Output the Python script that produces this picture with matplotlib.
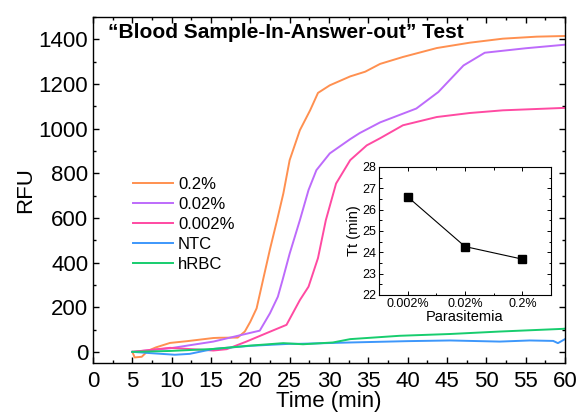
import matplotlib
import matplotlib.pyplot as plt
from matplotlib.ticker import MultipleLocator

matplotlib.use('agg')
plt.rcParams['font.family'] = ['Liberation Sans', 'DejaVu Sans']

# fluorescence traces (time in min, RFU)
t_02 = [5, 5.3, 6.2, 7, 8, 9.8, 12, 15.3, 16, 18.4, 19.3, 20, 20.8, 21.6, 22.5, 23.4, 24.2, 25, 26.3,
        27.6, 28.6, 30.1, 32.7, 34.6, 36.5, 39.4, 43.7, 47.9, 52.1, 56.4, 60]
rfu_02 = [0, -25, -22, 5, 20, 40, 48, 62, 63, 64, 91, 135, 195, 320, 460, 590, 710, 859, 993,
          1082, 1160, 1194, 1234, 1255, 1290, 1321, 1361, 1385, 1403, 1412, 1415]

t_002 = [5, 9.8, 15.3, 18.9, 21.2, 22.5, 23.5, 24.1, 25, 26.3, 27.4, 28.4, 30.1, 32.7, 33.9, 36.5,
         41.1, 43.9, 47.1, 49.8, 55, 60]
rfu_002 = [0, 16, 46, 76, 95, 173, 247, 322, 440, 590, 725, 814, 889, 953, 980, 1028,
           1090, 1164, 1283, 1340, 1360, 1376]

t_0002 = [5, 9.8, 15.3, 17, 19.5, 22, 24.6, 26.3, 27.4, 28.6, 29.6, 30.9, 32.7, 34.8, 36.5, 39.4, 43.7,
          47.9, 52.1, 60]
rfu_0002 = [0, 18, 6, 12, 46, 83, 121, 232, 292, 420, 590, 754, 859, 925, 957, 1015, 1052,
            1070, 1082, 1093]

t_ntc = [5, 7, 10.4, 12.3, 15.3, 20, 25, 26.3, 32.7, 40, 45.4, 51.7, 55.5, 58.5, 59.1, 60]
rfu_ntc = [0, -5, -13, -9, 13, 27, 36, 36, 42, 48, 51, 46, 51, 49, 39, 57]

t_rbc = [5, 9.8, 15.3, 20, 24.2, 26.7, 30.5, 32.7, 39, 45.4, 51.7, 59.7, 60]
rfu_rbc = [0, 4, 13, 28, 39, 34, 42, 57, 72, 80, 91, 103, 104]

# threshold time vs parasitemia
parasitemia = ['0.002%', '0.02%', '0.2%']
tt = [26.6, 24.27, 23.68]

fig = plt.figure(figsize=(5.79, 4.12), dpi=100)
ax = fig.add_axes([0.1606, 0.1189, 0.8152, 0.8398])

ax.plot(t_02, rfu_02, color='#ff9050', lw=1.4, label='0.2%')
ax.plot(t_002, rfu_002, color='#bd6bfb', lw=1.4, label='0.02%')
ax.plot(t_0002, rfu_0002, color='#ff4aa2', lw=1.4, label='0.002%')
ax.plot(t_ntc, rfu_ntc, color='#3d97fb', lw=1.4, label='NTC')
ax.plot(t_rbc, rfu_rbc, color='#17cd6e', lw=1.4, label='hRBC')

ax.set_xlim(0, 60)
ax.set_ylim(-50, 1500)
ax.xaxis.set_major_locator(MultipleLocator(5))
ax.xaxis.set_minor_locator(MultipleLocator(2.5))
ax.yaxis.set_major_locator(MultipleLocator(200))
ax.yaxis.set_minor_locator(MultipleLocator(100))
ax.tick_params(which='both', direction='in', top=True, right=True, labelsize=16, width=1)
ax.tick_params(which='major', length=4.5)
ax.tick_params(which='minor', length=2.5)
ax.tick_params(axis='x', pad=6)
for s in ax.spines.values():
    s.set_linewidth(1)
ax.set_xlabel('Time (min)', fontsize=16, labelpad=-1)
ax.set_ylabel('RFU', fontsize=16, labelpad=2)

ax.legend(loc='upper left', bbox_to_anchor=(0.0847, 0.539), frameon=False, fontsize=12,
          handlelength=2.4, handletextpad=0.3, labelspacing=0.3, borderpad=0, borderaxespad=0)

fig.text(0.1865, 0.922, '\u201cBlood Sample-In-Answer-out\u201d Test', fontsize=15,
         fontweight='bold', va='center', ha='left')

# inset: threshold time
ins = fig.add_axes([0.6546, 0.284, 0.2971, 0.3107])
ins.plot(range(1, 4), tt, color='black', lw=0.8, marker='s', ms=5.5)
ins.set_xlim(0.5, 3.5)
ins.set_ylim(22, 28)
ins.set_xticks(range(1, 4))
ins.set_xticklabels(parasitemia)
ins.xaxis.set_minor_locator(MultipleLocator(0.5))
ins.yaxis.set_major_locator(MultipleLocator(1))
ins.yaxis.set_minor_locator(MultipleLocator(0.5))
ins.tick_params(which='both', direction='in', top=True, right=True, labelsize=9, width=0.7, pad=2)
ins.tick_params(which='major', length=3)
ins.tick_params(which='minor', length=1.8)
for s in ins.spines.values():
    s.set_linewidth(0.8)
ins.set_xlabel('Parasitemia', fontsize=10.5, labelpad=0)
ins.set_ylabel('Tt (min)', fontsize=10.5, labelpad=1)

fig.savefig('out.png', dpi=100)
